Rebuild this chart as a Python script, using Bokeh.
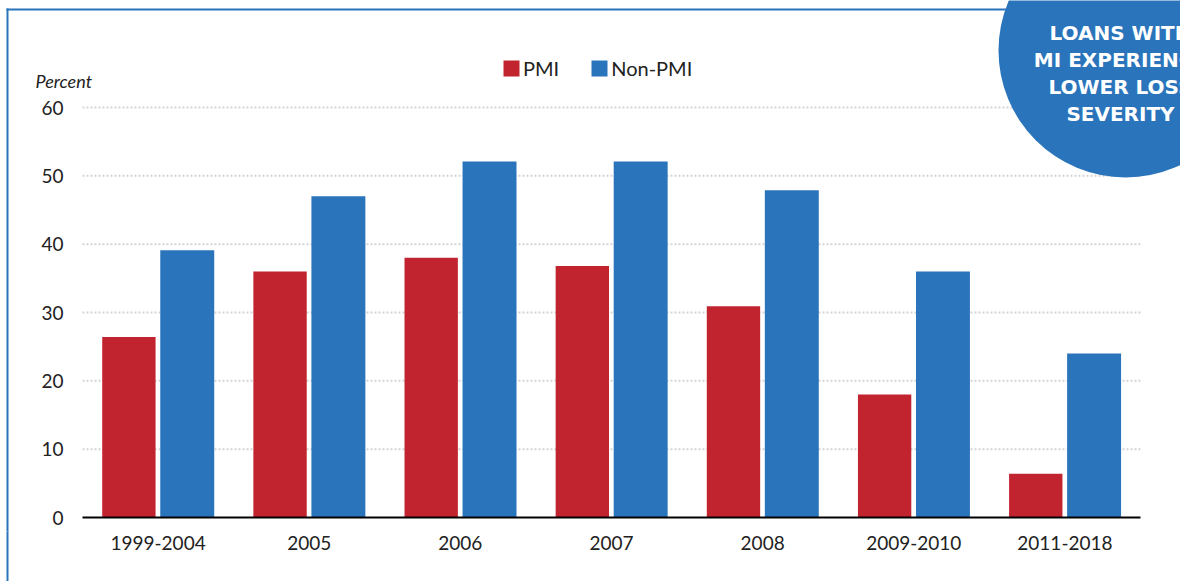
import numpy as np
from bokeh.plotting import figure
from bokeh.models import Range1d, FixedTicker, Legend, LegendItem
from bokeh.core.properties import value
from bokeh.embed import file_html
from bokeh.resources import INLINE

categories = ["1999-2004", "2005", "2006", "2007", "2008", "2009-2010", "2011-2018"]
pmi = [26.4, 36.0, 38.0, 36.8, 30.9, 18.0, 6.4]
non_pmi = [39.1, 47.0, 52.1, 52.1, 47.9, 36.0, 24.0]
y_ticks = [0, 10, 20, 30, 40, 50, 60]
series_names = ["PMI", "Non-PMI"]
y_title = "Percent"
callout_lines = ["LOANS WITH", "MI EXPERIENCE", "LOWER LOSS", "SEVERITY"]

RED = "#c1232f"
BLUE = "#2a74bb"
TXT = "#222222"
FONT = "Lato"

W, H = 1180, 581
PLOT_LEFT = 82          # pixel where the category area starts
ZERO_Y = 517            # pixel of value 0
FRAME_BOTTOM = 531
cat_px = 1058 / len(categories)
ppu = 410 / 60.0        # pixels per percent


def dx(px):
    return (px - PLOT_LEFT) / cat_px


def dy(py):
    return (ZERO_Y - py) / ppu


p = figure(width=W, height=H, output_backend="svg", toolbar_location=None,
           x_range=Range1d(dx(0), dx(W)), y_range=Range1d(dy(FRAME_BOTTOM), dy(0)),
           y_axis_location=None,
           min_border_left=0, min_border_right=0, min_border_top=0,
           min_border_bottom=H - FRAME_BOTTOM)
p.outline_line_color = None
p.background_fill_color = "white"
p.border_fill_color = "white"
p.xgrid.grid_line_color = None
p.ygrid.grid_line_color = None

ncat = len(categories)

# horizontal dotted grid lines at the tick values
grid_vals = y_ticks[1:]
p.segment(x0=[0] * len(grid_vals), y0=grid_vals, x1=[ncat] * len(grid_vals), y1=grid_vals,
          line_color="#d4d4d4", line_width=2, line_dash="2 2")

# outer frame lines (left and top)
border_x = dx(7)
p.segment(x0=[border_x], y0=[dy(8)], x1=[border_x], y1=[dy(FRAME_BOTTOM + 5)],
          line_color=BLUE, line_width=2)
p.segment(x0=[dx(6)], y0=[dy(9)], x1=[dx(1060)], y1=[dy(9)], line_color=BLUE, line_width=2)

xc = np.arange(ncat) + 0.5
r1 = p.vbar(x=xc - 0.193, top=pmi, bottom=0, width=0.353, fill_color=RED, line_color=None)
r2 = p.vbar(x=xc + 0.193, top=non_pmi, bottom=0, width=0.357, fill_color=BLUE, line_color=None)

# x axis line (value 0)
p.segment(x0=[0], y0=[0], x1=[ncat], y1=[0], line_color="black", line_width=2)

# x axis (category labels); its minor tick continues the outer frame line downwards
tick_out = H - FRAME_BOTTOM + 2
xa = p.xaxis[0]
xa.ticker = FixedTicker(ticks=list(xc), minor_ticks=[border_x])
xa.major_label_overrides = {float(x): c for x, c in zip(xc, categories)}
xa.axis_line_color = None
xa.major_tick_line_color = None
xa.major_tick_in = 0
xa.major_tick_out = 0
xa.minor_tick_line_color = BLUE
xa.minor_tick_line_width = 2
xa.minor_tick_in = 0
xa.minor_tick_out = tick_out
xa.major_label_text_font = FONT
xa.major_label_text_font_size = "19px"
xa.major_label_text_color = TXT
xa.major_label_standoff = (545 - FRAME_BOTTOM) - 10 - tick_out

# y tick labels
p.text(x=[dx(PLOT_LEFT - 19)] * len(y_ticks), y=y_ticks, text=[str(t) for t in y_ticks],
       text_font=value(FONT), text_font_size="19px", text_color=TXT,
       text_align="right", text_baseline="middle")

# y-axis title
p.text(x=[dx(35)], y=[dy(80)], text=[y_title], text_font=value(FONT), text_font_style="italic",
       text_font_size="18px", text_color=TXT, text_align="left", text_baseline="middle")

# legend
legend = Legend(items=[LegendItem(label=series_names[0], renderers=[r1]),
                       LegendItem(label=series_names[1], renderers=[r2])],
                orientation="horizontal", location=(501, FRAME_BOTTOM - 80), padding=0, margin=0,
                glyph_width=20, glyph_height=20, label_height=20, label_standoff=2, spacing=30,
                border_line_color=None, background_fill_alpha=0,
                label_text_font=FONT, label_text_font_size="20px", label_text_color=TXT)
p.add_layout(legend)

# callout circle
p.circle(x=[dx(1125)], y=[dy(50)], radius=127, radius_units="screen", fill_color=BLUE, line_color=None)
ty = [dy(yy) for yy in (32, 59, 86, 113)]
p.text(x=[dx(1120)] * len(callout_lines), y=ty, text=callout_lines, text_font=value("DejaVu Sans"),
       text_font_style="bold", text_font_size="20px", text_color="white",
       text_align="center", text_baseline="middle")

open("out.html", "w").write(file_html(p, INLINE))
